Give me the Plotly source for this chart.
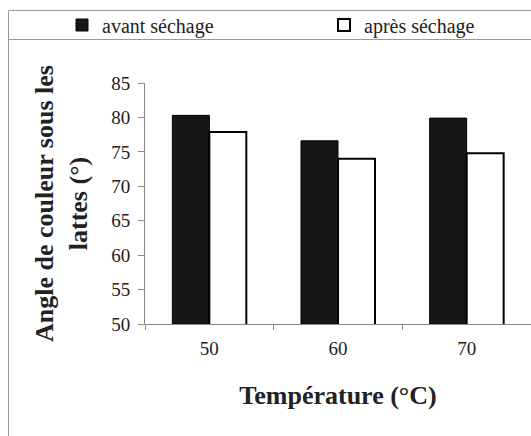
import plotly.graph_objects as go

temperatures = ["50", "60", "70"]
avant_sechage = [80.3, 76.6, 79.9]
apres_sechage = [77.9, 74.0, 74.8]
y_ticks = [50, 55, 60, 65, 70, 75, 80, 85]

W, H = 531, 436
ML, MR, MT, MB = 145, 0, 83, 112
PW = W - ML - MR
PH = H - MT - MB


def px_x(px):
    return (px - ML) / PW


def px_y(py):
    return (H - MB - py) / PH


FONT = "Liberation Serif"

fig = go.Figure()
fig.add_trace(go.Bar(
    x=temperatures, y=avant_sechage, name="avant séchage",
    marker=dict(color="#161616", line=dict(color="#000000", width=1)),
))
fig.add_trace(go.Bar(
    x=temperatures, y=apres_sechage, name="après séchage",
    marker=dict(color="#ffffff", line=dict(color="#000000", width=2)),
))

fig.update_layout(
    width=W, height=H,
    margin=dict(l=ML, r=MR, t=MT, b=MB, autoexpand=False),
    paper_bgcolor="white", plot_bgcolor="white",
    font=dict(family=FONT, size=19, color="#222"),
    barmode="group", bargap=0.425, bargroupgap=0,
    showlegend=True,
    legend=dict(
        orientation="h", x=px_x(62), xanchor="left", y=px_y(25), yanchor="middle",
        entrywidth=217, entrywidthmode="pixels",
        font=dict(family=FONT, size=20, color="#222"),
        bgcolor="rgba(0,0,0,0)", borderwidth=0, itemclick=False,
    ),
    xaxis=dict(
        type="category", categoryarray=temperatures,
        showline=True, linecolor="#888", linewidth=1,
        ticks="outside", tickson="boundaries", ticklen=5, tickcolor="#888",
        showgrid=False, zeroline=False, ticklabelstandoff=7,
        tickfont=dict(family=FONT, size=19, color="#222"),
        title=dict(text="<b>Température (°C)</b>", font=dict(family=FONT, size=26, color="#222"), standoff=28),
        automargin=False,
    ),
    yaxis=dict(
        range=[50, 85], tickvals=y_ticks, ticktext=[str(v) for v in y_ticks],
        showline=True, linecolor="#888", linewidth=1,
        ticks="outside", ticklen=6, tickcolor="#888",
        showgrid=False, zeroline=False, ticklabelstandoff=4,
        tickfont=dict(family=FONT, size=19, color="#222"),
        title=dict(text="<b>Angle de couleur sous les<br>lattes (°)</b>", font=dict(family=FONT, size=26, color="#222"), standoff=16),
        automargin=False,
    ),
    shapes=[
        dict(type="rect", xref="paper", yref="paper",
             x0=px_x(8.5), x1=px_x(545), y0=px_y(450), y1=px_y(10.5),
             line=dict(color="#999", width=1), fillcolor="rgba(0,0,0,0)", layer="below"),
        dict(type="line", xref="paper", yref="paper",
             x0=px_x(8.5), x1=px_x(545), y0=px_y(39.5), y1=px_y(39.5),
             line=dict(color="#999", width=1)),
    ],
)

fig.write_html(
    "out.html",
    config={"displayModeBar": False},
    post_script="document.body.style.margin='0';document.body.style.overflow='hidden';",
)
